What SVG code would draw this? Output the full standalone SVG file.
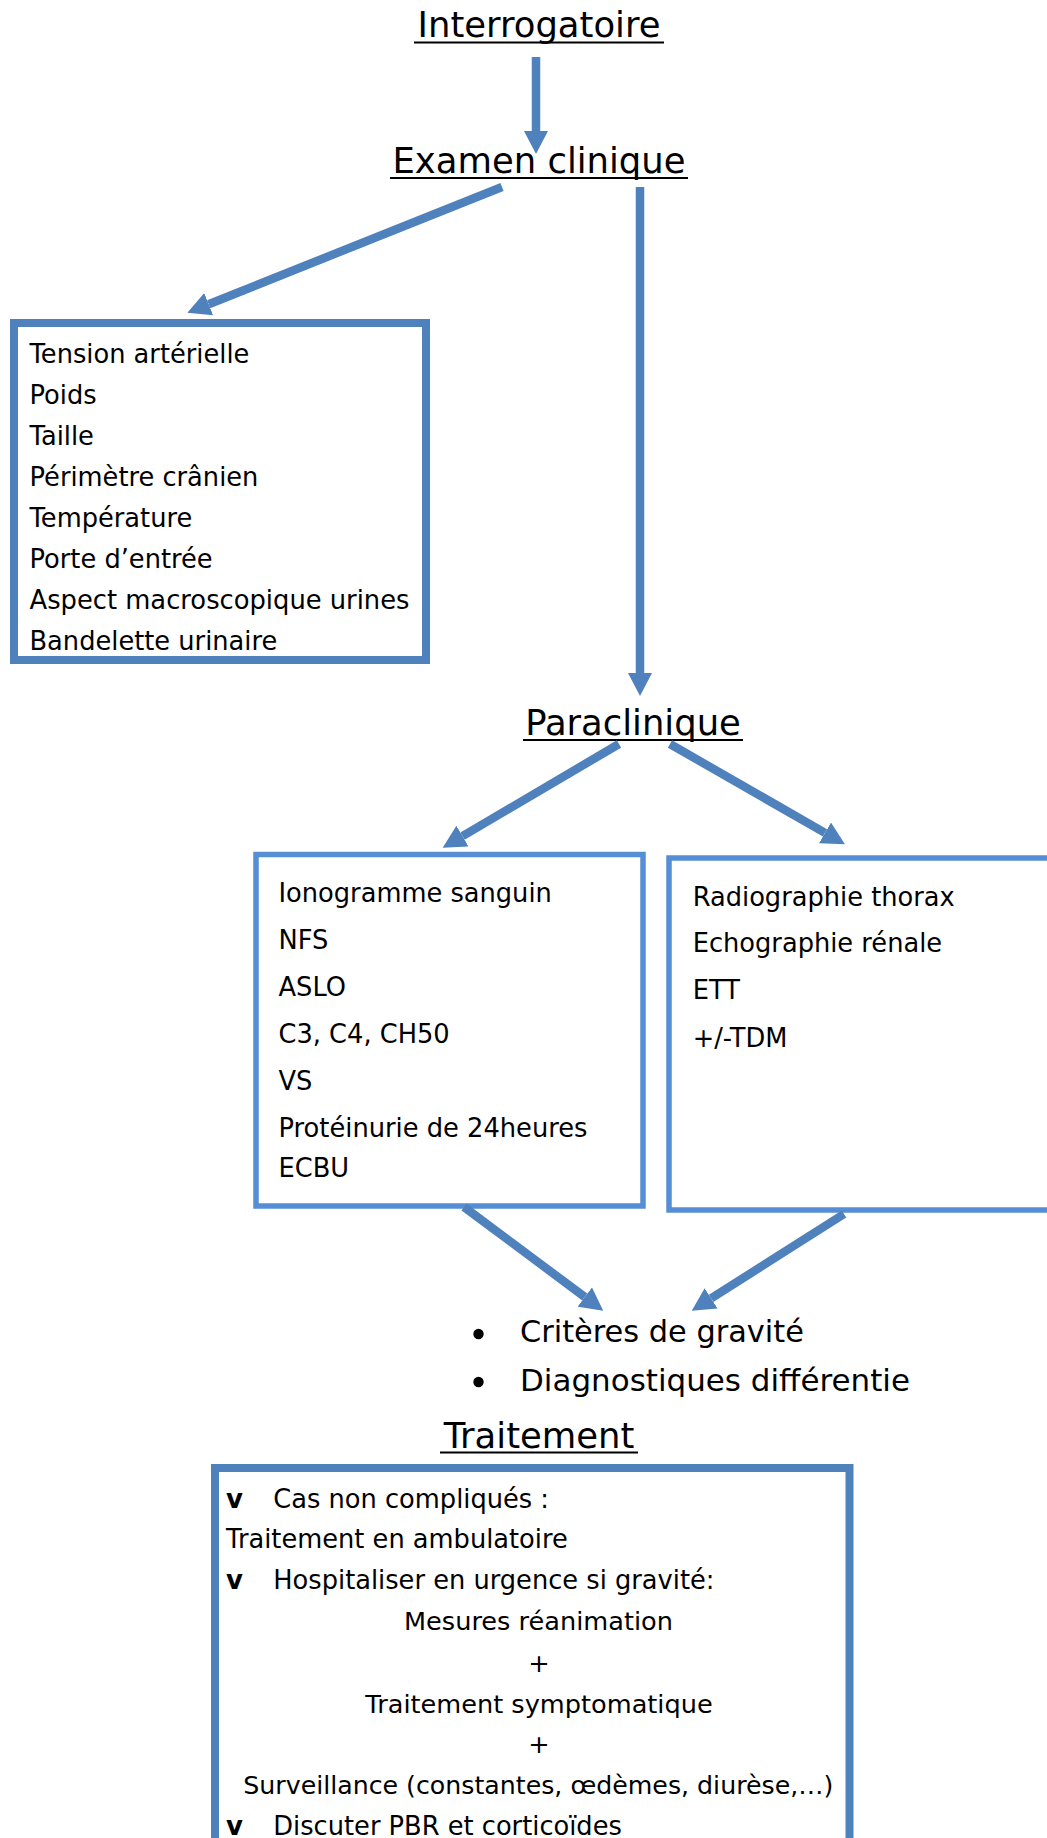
<svg xmlns="http://www.w3.org/2000/svg" width="1047" height="1838" viewBox="0 0 1047 1838">
<style>
text { font-family: "DejaVu Sans", Verdana, sans-serif; fill: #000; }
.h { font-size: 35.4px; text-anchor: middle; }
.t { font-size: 25.7px; }
.tc { font-size: 25.6px; text-anchor: middle; }
.big { font-size: 30.4px; }
.chk { font-size: 26px; font-weight: bold; }
.ul { stroke: #000; stroke-width: 2; }
.box1 { fill: none; stroke: #4F81BD; stroke-width: 8; }
.box2 { fill: none; stroke: #558ED5; stroke-width: 5.5; }
.arr { fill: none; stroke: #4F81BD; stroke-width: 8.5; marker-end: url(#ah); }
</style>
<defs>
<marker id="ah" markerUnits="userSpaceOnUse" markerWidth="23" markerHeight="24" viewBox="0 0 23 24" refX="0" refY="12" orient="auto">
<path d="M0,0 L23,12 L0,24 Z" fill="#4F81BD"/>
</marker>
</defs>
<rect width="1047" height="1838" fill="#fff"/>

<g id="interrogatoire">
<text class="h" x="539" y="37">Interrogatoire</text>
<line class="ul" x1="414" y1="42.5" x2="664" y2="42.5"/>
</g>

<g id="examen-clinique">
<text class="h" x="539" y="173">Examen clinique</text>
<line class="ul" x1="390" y1="178" x2="688" y2="178"/>
</g>

<g id="examen-box">
<rect class="box1" x="14" y="323" width="412" height="337"/>
<text class="t" x="29.5" y="363">Tension artérielle</text>
<text class="t" x="29.5" y="404">Poids</text>
<text class="t" x="29.5" y="445">Taille</text>
<text class="t" x="29.5" y="486">Périmètre crânien</text>
<text class="t" x="29.5" y="527">Température</text>
<text class="t" x="29.5" y="568">Porte d’entrée</text>
<text class="t" x="29.5" y="609" textLength="380" lengthAdjust="spacingAndGlyphs">Aspect macroscopique urines</text>
<text class="t" x="29.5" y="650">Bandelette urinaire</text>
</g>

<g id="paraclinique">
<text class="h" x="633" y="735">Paraclinique</text>
<line class="ul" x1="523" y1="740" x2="743" y2="740"/>
</g>

<g id="biologie-box">
<rect class="box2" x="256" y="854.5" width="387" height="351.5"/>
<text class="t" x="278.5" y="902">Ionogramme sanguin</text>
<text class="t" x="278.5" y="948.5">NFS</text>
<text class="t" x="278.5" y="995.5">ASLO</text>
<text class="t" x="278.5" y="1043">C3, C4, CH50</text>
<text class="t" x="278.5" y="1090">VS</text>
<text class="t" x="278.5" y="1137" textLength="309" lengthAdjust="spacingAndGlyphs">Protéinurie de 24heures</text>
<text class="t" x="278.5" y="1176.5">ECBU</text>
</g>

<g id="imagerie-box">
<rect class="box2" x="669" y="858" width="420" height="352"/>
<text class="t" x="692.7" y="905.5">Radiographie thorax</text>
<text class="t" x="692.7" y="952">Echographie rénale</text>
<text class="t" x="692.7" y="999">ETT</text>
<text class="t" x="692.7" y="1046.5">+/-TDM</text>
</g>

<g id="criteres">
<circle cx="478.5" cy="1334" r="5.2" fill="#000"/>
<text class="big" x="520" y="1342">Critères de gravité</text>
<circle cx="478.5" cy="1382" r="5.2" fill="#000"/>
<text class="big" x="520" y="1391" textLength="390" lengthAdjust="spacingAndGlyphs">Diagnostiques différentie</text>
</g>

<g id="traitement">
<text class="h" x="539" y="1448">Traitement</text>
<line class="ul" x1="440" y1="1452.5" x2="638" y2="1452.5"/>
</g>

<g id="traitement-box">
<rect class="box1" x="215" y="1468" width="634.5" height="420"/>
<text class="chk" x="226" y="1508">v</text>
<text class="t" x="273.3" y="1508">Cas non compliqués :</text>
<text class="t" x="226" y="1548">Traitement en ambulatoire</text>
<text class="chk" x="226" y="1589">v</text>
<text class="t" x="273.3" y="1589">Hospitaliser en urgence si gravité:</text>
<text class="tc" x="538.5" y="1630">Mesures réanimation</text>
<text class="tc" x="539" y="1672">+</text>
<text class="tc" x="539" y="1713">Traitement symptomatique</text>
<text class="tc" x="539" y="1753">+</text>
<text class="tc" x="538.3" y="1794" textLength="590" lengthAdjust="spacingAndGlyphs">Surveillance (constantes, œdèmes, diurèse,…)</text>
<text class="chk" x="226" y="1835">v</text>
<text class="t" x="273.3" y="1835">Discuter PBR et corticoïdes</text>
</g>

<g id="connectors">
<path class="arr" d="M536,57 L536,131"/>
<path class="arr" d="M502,187 L208.7,304.2"/>
<path class="arr" d="M640,187 L640,673"/>
<path class="arr" d="M619,744 L462.5,836.1"/>
<path class="arr" d="M670,744 L825,832.9"/>
<path class="arr" d="M464,1207 L584.8,1297"/>
<path class="arr" d="M844,1214 L711.1,1298.4"/>
</g>
</svg>
